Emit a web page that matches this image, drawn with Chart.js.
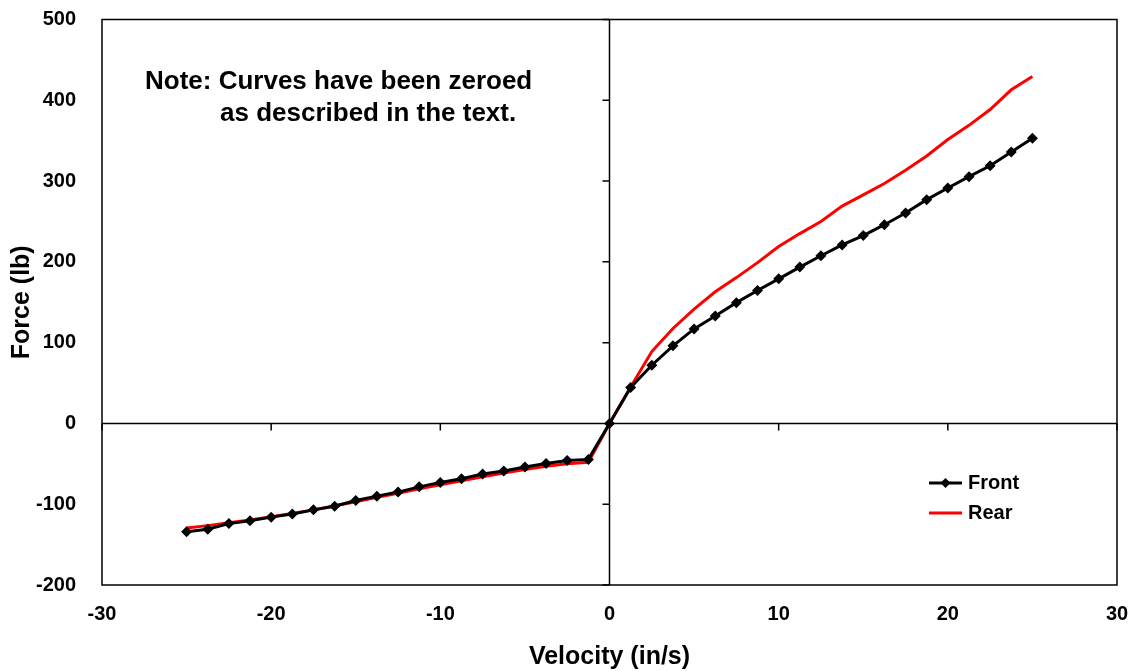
<!DOCTYPE html>
<html>
<head>
<meta charset="utf-8">
<script src="https://cdn.jsdelivr.net/npm/chart.js@4.4.1/dist/chart.umd.min.js"></script>
<style>
html, body { margin: 0; padding: 0; background: #fff; }
</style>
</head>
<body>
<canvas id="chart" width="1136" height="671"></canvas>
<script>
const velocity = [-25, -23.75, -22.5, -21.25, -20, -18.75, -17.5, -16.25, -15, -13.75,
  -12.5, -11.25, -10, -8.75, -7.5, -6.25, -5, -3.75, -2.5, -1.25, 0,
  1.25, 2.5, 3.75, 5, 6.25, 7.5, 8.75, 10, 11.25, 12.5,
  13.75, 15, 16.25, 17.5, 18.75, 20, 21.25, 22.5, 23.75, 25];

const frontForce = [-134, -131, -124, -120.5, -116, -112, -107, -102.5, -95.5, -90,
  -85, -78.5, -73, -68.5, -62.5, -59, -54, -49.5, -46, -44.5, 0,
  44.5, 72, 96, 117, 133, 149.5, 164.5, 179, 193.5, 207.5,
  221, 232.5, 246, 260.5, 277, 291.5, 305.5, 319, 336, 353];

const rearForce = [-129.5, -126.5, -123, -119.5, -115.5, -111.5, -107, -102, -97, -91.5,
  -86.5, -81, -76, -71, -66, -61.5, -57, -53, -50, -48, 0,
  45, 89, 117.5, 141.5, 163, 180.5, 199, 219, 235, 250,
  269, 283, 297, 313.5, 331, 351.5, 369, 388.5, 413, 429.5];

const xTicks = [-30, -20, -10, 0, 10, 20, 30];
const yTicks = [-200, -100, 0, 100, 200, 300, 400, 500];
const noteLines = ['Note: Curves have been zeroed', 'as described in the text.'];

const family = "'Liberation Sans', Arial, sans-serif";
const toPoints = ys => velocity.map((v, i) => ({ x: v, y: ys[i] }));

// box, zero axes with their little ticks
const framePlugin = {
  id: 'frame',
  beforeDatasetsDraw(chart) {
    const { ctx, chartArea: a, scales: { x, y } } = chart;
    const x0 = x.getPixelForValue(0);
    const y0 = y.getPixelForValue(0);
    ctx.save();
    ctx.strokeStyle = '#000';
    ctx.lineWidth = 1.5;
    ctx.strokeRect(a.left, a.top, a.right - a.left, a.bottom - a.top);
    ctx.beginPath();
    ctx.moveTo(x0, a.top); ctx.lineTo(x0, a.bottom);
    ctx.moveTo(a.left, y0); ctx.lineTo(a.right, y0);
    yTicks.forEach(v => {
      const py = y.getPixelForValue(v);
      ctx.moveTo(x0 - 7, py); ctx.lineTo(x0, py);
    });
    xTicks.forEach(v => {
      const px = x.getPixelForValue(v);
      ctx.moveTo(px, y0); ctx.lineTo(px, y0 + 7);
    });
    ctx.stroke();
    ctx.restore();
  },
  afterDraw(chart) {
    const { ctx, chartArea: a } = chart;
    ctx.save();
    ctx.fillStyle = '#000';
    ctx.textBaseline = 'middle';
    ctx.textAlign = 'left';
    ctx.font = 'bold 26px ' + family;
    ctx.fillText(noteLines[0], a.left + 43, a.top + 62);
    ctx.fillText(noteLines[1], a.left + 118, a.top + 94);

    // legend
    ctx.font = 'bold 20px ' + family;
    chart.data.datasets.forEach((ds, i) => {
      const ly = a.bottom - 102 + i * 30;
      const lx = a.right - 188;
      ctx.strokeStyle = ds.borderColor;
      ctx.lineWidth = 3;
      ctx.beginPath();
      ctx.moveTo(lx, ly); ctx.lineTo(lx + 33, ly);
      ctx.stroke();
      if (ds.pointRadius > 0) {
        ctx.fillStyle = ds.pointBackgroundColor;
        ctx.beginPath();
        ctx.moveTo(lx + 16.5, ly - 5); ctx.lineTo(lx + 21.5, ly);
        ctx.lineTo(lx + 16.5, ly + 5); ctx.lineTo(lx + 11.5, ly);
        ctx.closePath();
        ctx.fill();
      }
      ctx.fillStyle = '#000';
      ctx.fillText(ds.label, lx + 39, ly);
    });
    ctx.restore();
  }
};

new Chart(document.getElementById('chart'), {
  type: 'scatter',
  data: {
    datasets: [
      {
        label: 'Front',
        data: toPoints(frontForce),
        showLine: true,
        borderColor: '#000',
        borderWidth: 3,
        pointStyle: 'rectRot',
        pointRadius: 5.5,
        pointBackgroundColor: '#000',
        pointBorderColor: '#000',
        pointBorderWidth: 0,
        order: 0
      },
      {
        label: 'Rear',
        data: toPoints(rearForce),
        showLine: true,
        borderColor: '#ff0000',
        borderWidth: 3,
        pointRadius: 0,
        order: 1
      }
    ]
  },
  options: {
    responsive: false,
    animation: false,
    devicePixelRatio: 1,
    layout: { padding: { top: 19.5, right: 19, bottom: 0, left: 0 } },
    plugins: {
      legend: { display: false },
      tooltip: { enabled: false }
    },
    scales: {
      x: {
        type: 'linear',
        min: -30,
        max: 30,
        afterBuildTicks: s => { s.ticks = xTicks.map(v => ({ value: v })); },
        afterFit: s => { s.height = 86; s.paddingLeft = 0; s.paddingRight = 0; },
        grid: { display: false },
        border: { display: false },
        ticks: { color: '#000', padding: 9, font: { family, size: 20, weight: 'bold' } },
        title: {
          display: true,
          text: 'Velocity (in/s)',
          color: '#000',
          padding: { top: 0, bottom: 1 },
          font: { family, size: 25, weight: 'bold', lineHeight: 1 }
        }
      },
      y: {
        type: 'linear',
        min: -200,
        max: 500,
        afterBuildTicks: s => { s.ticks = yTicks.map(v => ({ value: v })); },
        afterFit: s => { s.width = 102; s.paddingTop = 0; s.paddingBottom = 0; },
        grid: { display: false },
        border: { display: false },
        ticks: { color: '#000', padding: 18, font: { family, size: 20, weight: 'bold' } },
        title: {
          display: true,
          text: 'Force (lb)',
          color: '#000',
          padding: { top: 7, bottom: 0 },
          font: { family, size: 25, weight: 'bold' }
        }
      }
    }
  },
  plugins: [framePlugin]
});
</script>
</body>
</html>
